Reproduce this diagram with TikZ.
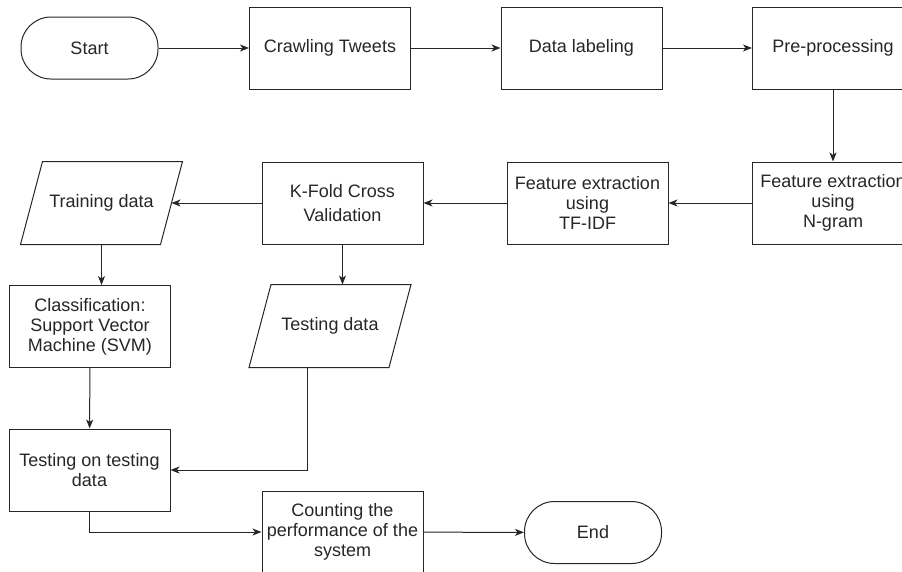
\documentclass[tikz,border=0pt]{standalone}
\usepackage{fontspec}
\setmainfont{Liberation Sans}
\usetikzlibrary{arrows.meta}

\begin{document}
\begin{tikzpicture}[x=1pt,y=-1pt,line width=1pt,
  every node/.style={font=\fontsize{18}{20}\selectfont,text=black!85,align=center},
  box/.style={draw=black!85,minimum width=161pt,minimum height=82pt,inner sep=0pt},
  term/.style={draw=black!85,rounded corners=30pt,minimum width=137pt,minimum height=62pt,inner sep=0pt},
  data/.style={minimum width=161pt,minimum height=82pt,inner sep=0pt},
  arr/.style={draw=black!85,-{Stealth[length=9pt,width=7pt,inset=2.5pt]}}]
\newcommand{\drawdata}[1]{\draw[black!85] ([xshift=22pt]#1.north west) -- (#1.north east) -- ([xshift=-22pt]#1.south east) -- (#1.south west) -- cycle;}

\useasboundingbox (0,0) rectangle (902,571);
\clip (0,0) rectangle (902,571);

% first row
\node[term] (start) at (89.5,48) {Start};
\node[box] (crawl) at (330,48) {Crawling Tweets};
\node[box] (label) at (581.5,48) {Data labeling};
\node[box] (pre) at (833,48) {Pre-processing};

% second row
\node[box] (ngram) at (833,203) {Feature extraction\\using\\N-gram};
\node[box] (tfidf) at (587.5,203) {Feature extraction\\using\\TF-IDF};
\node[box] (kfold) at (342.5,203) {K-Fold Cross\\[4pt]Validation};
\node[data] (train) at (101.5,203) {Training data};
\drawdata{train}

% third row
\node[box] (svm) at (90,326.5) {Classification:\\Support Vector\\Machine (SVM)};
\node[data] (testd) at (330,326) {Testing data};
\drawdata{testd}

% last rows
\node[box] (testing) at (89.5,470) {Testing on testing\\data};
\node[box] (count) at (342.5,532) {Counting the\\performance of the\\system};
\node[term] (end) at (593,532.5) {End};

\draw[arr] (start) -- (crawl);
\draw[arr] (crawl) -- (label);
\draw[arr] (label) -- (pre);
\draw[arr] (pre) -- (ngram);
\draw[arr] (ngram) -- (tfidf);
\draw[arr] (tfidf) -- (kfold);
\draw[arr] (kfold.west) -- ([xshift=-11pt]train.east);
\draw[arr] (train.south) -- (train.south |- svm.north);
\draw[arr] (kfold.south) -- (kfold.south |- testd.north);
\draw[arr] (svm) -- (testing);
\draw[arr] ([xshift=-23pt]testd.south) |- (testing.east);
\draw[arr] (testing.south) |- (count.west);
\draw[arr] (count) -- (end);
\end{tikzpicture}
\end{document}
